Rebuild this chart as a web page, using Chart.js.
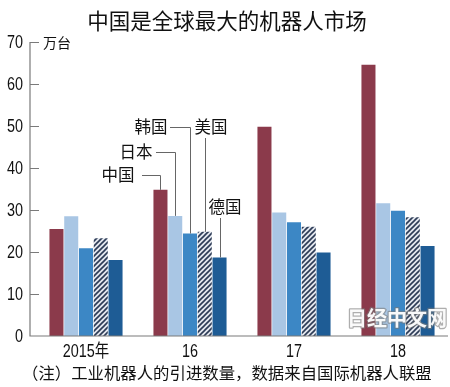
<!DOCTYPE html>
<html>
<head>
<meta charset="utf-8">
<script src="https://cdn.jsdelivr.net/npm/chart.js@4/dist/chart.umd.min.js"></script>
<style>
  html, body { margin: 0; padding: 0; background: #fff; }
  #wrap { width: 450px; height: 387px; position: relative; }
</style>
</head>
<body>
<div id="wrap"><canvas id="chart" width="450" height="387"></canvas></div>
<script>
// --- data (万台) ---
const years = ['2015年', '16', '17', '18'];
const seriesNames = ['中国', '日本', '韩国', '美国', '德国'];
const china = [25.5, 34.8, 49.8, 64.6];
const japan = [28.5, 28.6, 29.4, 31.6];
const korea = [20.9, 24.4, 27.1, 29.8];
const usa = [23.3, 24.8, 26.0, 28.3];
const germany = [18.1, 18.7, 19.9, 21.4];
const yMin = 0, yMax = 70, yStep = 10;

const titleText = '中国是全球最大的机器人市场';
const unitText = '万台';
const noteText = '（注）工业机器人的引进数量，数据来自国际机器人联盟';
const markText = '日经中文网';

const numFont = "'Liberation Sans', Arial, 'Noto Sans CJK SC', sans-serif";
const cjkFont = "'Noto Sans CJK SC', sans-serif";

// hatched fill for the US bars
function makeHatch() {
    const c = document.createElement('canvas');
    c.width = 5; c.height = 5;
    const g = c.getContext('2d');
    g.fillStyle = '#e3e7ee';
    g.fillRect(0, 0, 5, 5);
    g.strokeStyle = '#2c3b56';
    g.lineWidth = 1.6;
    g.beginPath();
    g.moveTo(-1, 6); g.lineTo(6, -1);
    g.moveTo(-1, 1); g.lineTo(1, -1);
    g.moveTo(4, 6); g.lineTo(6, 4);
    g.stroke();
    return g.createPattern(c, 'repeat');
}

// narrow numeric labels: squeeze the text horizontally
function narrowText(ctx, text, x, y, align) {
    const sx = 0.8;
    ctx.save();
    ctx.translate(x, y);
    ctx.scale(sx, 1);
    ctx.textAlign = align;
    ctx.fillText(text, 0, 0);
    ctx.restore();
}

// leader label placement (layout only), tied to the 2016 bars
const leaderIdx = 1;
const leaders = [
    { ds: 0, tx: 118, ty: 175, hx: 142 },
    { ds: 1, tx: 136, ty: 152, hx: 156 },
    { ds: 2, tx: 151, ty: 127, hx: 170 },
    { ds: 3, tx: 211, ty: 127 },
    { ds: 4, tx: 225, ty: 207 }
];

const decorPlugin = {
    id: 'decor',
    afterDraw(chart) {
        const ctx = chart.ctx;
        const x = chart.scales.x;
        const y = chart.scales.y;
        const ca = chart.chartArea;
        const axisX = ca.left - 4;
        ctx.save();

        // axes
        ctx.strokeStyle = '#7a7a7a';
        ctx.lineWidth = 1.2;
        ctx.beginPath();
        ctx.moveTo(axisX, y.getPixelForValue(yMax));
        ctx.lineTo(axisX, y.getPixelForValue(yMin));
        ctx.lineTo(448, y.getPixelForValue(yMin));
        for (let v = yStep; v <= yMax; v += yStep) {
            const py = Math.round(y.getPixelForValue(v)) + 0.5;
            ctx.moveTo(axisX, py);
            ctx.lineTo(axisX + 9, py);
        }
        ctx.stroke();

        // tick labels
        ctx.fillStyle = '#111';
        ctx.textBaseline = 'middle';
        ctx.font = '18px ' + numFont;
        y.ticks.forEach((t, i) => {
            narrowText(ctx, String(t.value), 23, y.getPixelForTick(i) + 1, 'right');
        });
        years.forEach((lab, i) => {
            narrowText(ctx, lab, x.getPixelForTick(i), 352, 'center');
        });

        // title, unit, note
        ctx.textAlign = 'center';
        ctx.font = '21.5px ' + cjkFont;
        ctx.fillText(titleText, 227, 21);
        ctx.textAlign = 'left';
        ctx.font = '14px ' + cjkFont;
        ctx.fillText(unitText, 43, 43);
        ctx.font = '16.4px ' + cjkFont;
        ctx.fillText(noteText, 22, 373);

        // leader labels
        ctx.strokeStyle = '#666';
        ctx.lineWidth = 1;
        ctx.textAlign = 'center';
        ctx.font = '16.5px ' + cjkFont;
        leaders.forEach(l => {
            const el = chart.getDatasetMeta(l.ds).data[leaderIdx];
            const bx = Math.round(el.x) + 0.5;
            ctx.fillText(seriesNames[l.ds], l.tx, l.ty);
            ctx.beginPath();
            if (l.hx !== undefined) {
                ctx.moveTo(l.hx, l.ty + 0.5);
                ctx.lineTo(bx, l.ty + 0.5);
                ctx.lineTo(bx, el.y);
            } else {
                ctx.moveTo(bx, l.ty + 11);
                ctx.lineTo(bx, el.y);
            }
            ctx.stroke();
        });

        // watermark
        ctx.font = 'bold 20px ' + cjkFont;
        ctx.textAlign = 'left';
        ctx.lineJoin = 'round';
        ctx.strokeStyle = 'rgba(120,120,120,0.6)';
        ctx.lineWidth = 2.5;
        ctx.strokeText(markText, 347, 318);
        ctx.fillStyle = 'rgba(255,255,255,0.95)';
        ctx.fillText(markText, 347, 318);
        ctx.restore();
    }
};

const colors = ['#8b3a4b', '#a9c6e4', '#3c87c5', makeHatch(), '#1e5c95'];
const values = [china, japan, korea, usa, germany];

new Chart(document.getElementById('chart'), {
    type: 'bar',
    data: {
        labels: years,
        datasets: values.map((d, i) => ({
            label: seriesNames[i],
            data: d,
            backgroundColor: colors[i],
            borderWidth: 0,
            categoryPercentage: 0.71,
            barPercentage: 0.95
        }))
    },
    options: {
        responsive: false,
        animation: false,
        layout: { padding: { top: 42, right: 0, bottom: 0, left: 0 } },
        plugins: {
            legend: { display: false },
            title: { display: false },
            tooltip: { enabled: false }
        },
        scales: {
            x: {
                grid: { display: false, drawTicks: false },
                border: { display: false },
                ticks: { display: false },
                afterFit(s) { s.height = 51; }
            },
            y: {
                min: yMin,
                max: yMax,
                grid: { display: false, drawTicks: false },
                border: { display: false },
                ticks: { display: false, stepSize: yStep },
                afterFit(s) { s.width = 34; }
            }
        }
    },
    plugins: [decorPlugin]
});
</script>
</body>
</html>
